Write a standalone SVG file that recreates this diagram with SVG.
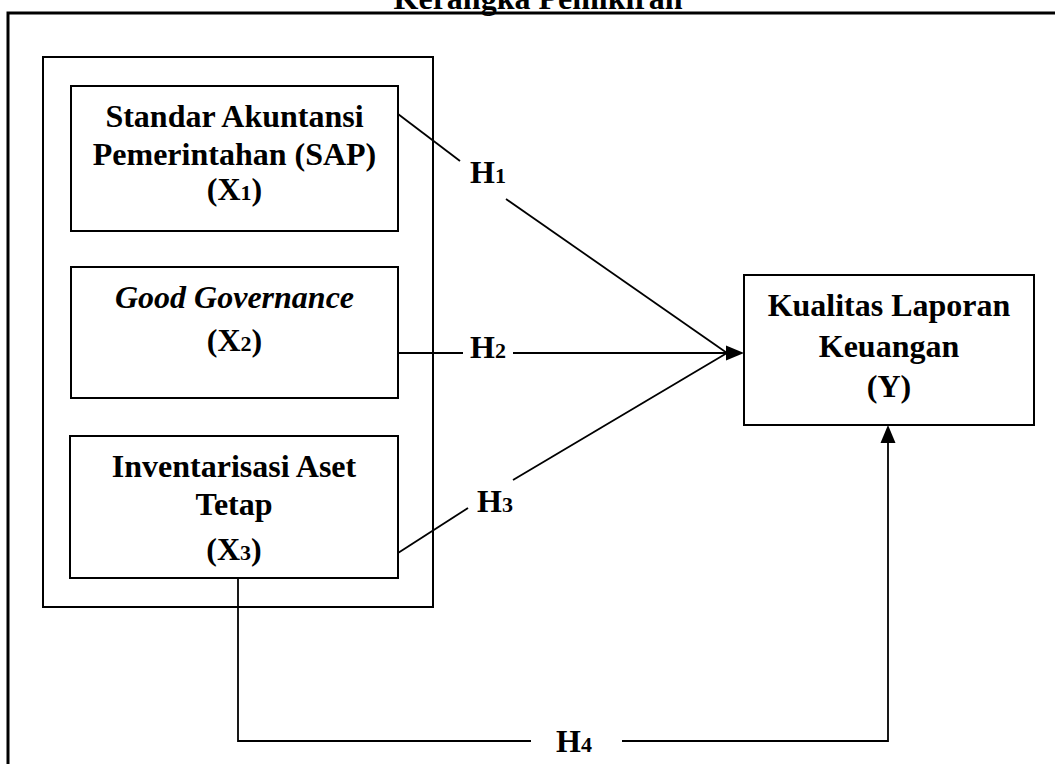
<svg xmlns="http://www.w3.org/2000/svg" width="1055" height="764" viewBox="0 0 1055 764">
<style>
.box{fill:#fff;stroke:#000;stroke-width:2}
.frame{fill:none;stroke:#000;stroke-width:3}
.t{font-family:"Liberation Serif","Times New Roman",serif;font-weight:bold;font-size:32px;fill:#000;text-anchor:middle}
.s{text-anchor:start}
.it{font-style:italic}
.sub{font-size:22px}
.ln{fill:none;stroke:#000;stroke-width:1.8}
.ah{fill:#000;stroke:none}
</style>
<rect width="1055" height="764" fill="#fff"/>
<text class="t" x="538" y="9">Kerangka Pemikiran</text>
<rect class="frame" x="8" y="13" width="1060" height="780"/>
<g id="group-x">
<rect class="box" x="43" y="57" width="390" height="550"/>
</g>
<g id="x1">
<rect class="box" x="71" y="86" width="327" height="145"/>
<text class="t" x="234.5" y="127">Standar Akuntansi</text>
<text class="t" x="234.5" y="165">Pemerintahan (SAP)</text>
<text class="t" x="234.5" y="200">(X<tspan class="sub">1</tspan>)</text>
</g>
<g id="x2">
<rect class="box" x="71" y="267" width="327" height="131"/>
<text class="t it" x="234.5" y="308">Good Governance</text>
<text class="t" x="234.5" y="351">(X<tspan class="sub">2</tspan>)</text>
</g>
<g id="x3">
<rect class="box" x="70" y="436" width="328" height="142"/>
<text class="t" x="234" y="477">Inventarisasi Aset</text>
<text class="t" x="234" y="515">Tetap</text>
<text class="t" x="234" y="560">(X<tspan class="sub">3</tspan>)</text>
</g>
<g id="y">
<rect class="box" x="744" y="275" width="290" height="150"/>
<text class="t" x="889" y="316">Kualitas Laporan</text>
<text class="t" x="889" y="357">Keuangan</text>
<text class="t" x="889" y="397">(Y)</text>
</g>
<g id="connectors">
<polyline class="ln" points="398,114 460,161"/>
<polyline class="ln" points="506,199 727,353"/>
<polyline class="ln" points="398,353 463,353"/>
<polyline class="ln" points="513,353 730,353"/>
<polygon class="ah" points="744,353 726,345.5 726,360.5"/>
<polyline class="ln" points="398,553 468,508"/>
<polyline class="ln" points="513,480 727,353"/>
<polyline class="ln" points="238,578 238,741 531,741"/>
<polyline class="ln" points="622,741 888,741 888,438"/>
<polygon class="ah" points="888,425 880.5,443 895.5,443"/>
<text class="t s" x="470" y="183">H<tspan class="sub">1</tspan></text>
<text class="t s" x="470" y="358">H<tspan class="sub">2</tspan></text>
<text class="t s" x="477" y="512">H<tspan class="sub">3</tspan></text>
<text class="t s" x="556" y="752">H<tspan class="sub">4</tspan></text>
</g>
</svg>
